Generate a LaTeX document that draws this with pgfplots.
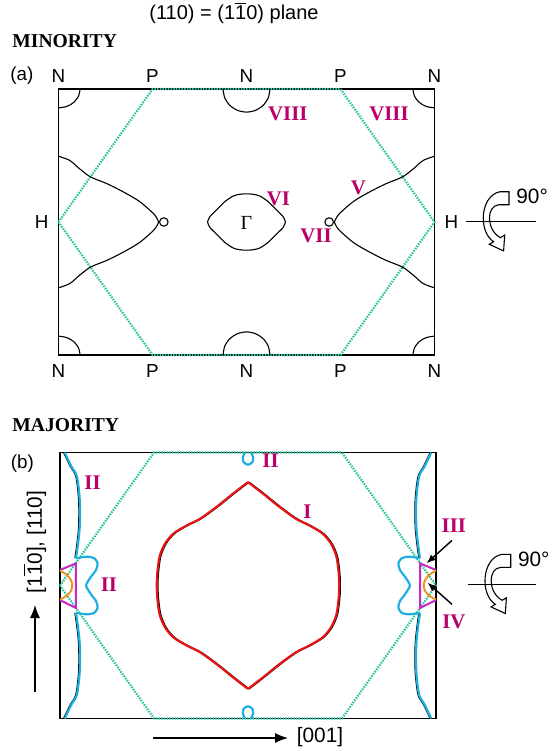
\documentclass[border=0pt]{standalone}
\usepackage{pgfplots}
\pgfplotsset{compat=1.18}
\usetikzlibrary{arrows.meta}
\usepackage{fontspec}
\setmainfont{Liberation Serif}
\setsansfont{Liberation Sans}
\newfontfamily\arial{Liberation Sans}

\definecolor{bzgreen}{RGB}{38,196,160}
\definecolor{sheetlbl}{RGB}{185,0,105}
\definecolor{fsred}{RGB}{230,20,20}
\definecolor{fscyan}{RGB}{30,175,225}
\definecolor{fsmag}{RGB}{200,40,200}
\definecolor{fsorange}{RGB}{240,150,30}

\pgfplotsset{
  fsbox/.style={
    x=47pt, y=47pt,
    xmin=-2, xmax=2, ymin=-1.4142, ymax=1.4142,
    hide axis, clip=false, anchor=center,
  },
  bz/.style={bzgreen, line width=1.1pt, dash pattern=on 0.75pt off 0.6pt},
  fermi/.style={black, line width=0.55pt, smooth},
  IIshade/.style={black, line width=0.5pt, smooth, xshift=-0.6pt},
  IIline/.style={fscyan, line width=1.1pt, smooth},
}
\tikzset{
  sheet/.style={text=sheetlbl, inner sep=0pt, font=\fontsize{10.4}{12}\selectfont\bfseries},
  sym/.style={inner sep=0pt, font=\arial\fontsize{9.4}{11}\selectfont},
  lbl/.style={inner sep=0pt, font=\arial\fontsize{10.4}{12}\selectfont},
  zonebox/.style={line width=0.6pt},
}

% rotation sign: #1,#2 = point where the arrow crosses the axis line, #3 = right end of the line
\newcommand\rotsym[3]{%
  \begin{scope}[shift={(#1,#2)}]
    \draw[line width=0.5pt] (-19,0) -- (#3,0);
    \draw[line width=0.55pt, line join=miter]
      (24,-30) -- (15,-30) .. controls (-5,-26) and (-7,10) .. (8.6,20)
      -- (4.3,22.6) -- (18.6,29.2) -- (19.7,13.4) -- (15.4,16)
      .. controls (1,8) and (1,-16) .. (14,-17) -- (24,-17) -- cycle;
    \node[lbl, anchor=west] at (31,-25) {90°};
  \end{scope}}

\begin{document}
\begin{tikzpicture}
\useasboundingbox (0,0) rectangle (276pt,-375.5pt);

% ---------------- (a) minority spin ----------------
\begin{axis}[fsbox, at={(123.25pt,-111pt)}]
  \draw[zonebox] (axis cs:-2,-1.4142) rectangle (axis cs:2,1.4142);
  % Brillouin zone boundary
  \addplot[bz] coordinates {(-2,0) (-1,1.4142) (1,1.4142) (2,0) (1,-1.4142) (-1,-1.4142) (-2,0)};
  % VIII: pockets around N
  \addplot[fermi] coordinates {(-1.77,1.4142) (-1.7875,1.3376) (-1.8374,1.2728) (-1.912,1.2294) (-2,1.2142)};
  \addplot[fermi] coordinates {(1.77,1.4142) (1.7875,1.3376) (1.8374,1.2728) (1.912,1.2294) (2,1.2142)};
  \addplot[fermi] coordinates {(-1.77,-1.4142) (-1.7875,-1.3376) (-1.8374,-1.2728) (-1.912,-1.2294) (-2,-1.2142)};
  \addplot[fermi] coordinates {(1.77,-1.4142) (1.7875,-1.3376) (1.8374,-1.2728) (1.912,-1.2294) (2,-1.2142)};
  \addplot[fermi] coordinates {(-0.25,1.4142) (-0.231,1.3204) (-0.1768,1.241) (-0.0957,1.1879) (0,1.1692) (0.0957,1.1879) (0.1768,1.241) (0.231,1.3204) (0.25,1.4142)};
  \addplot[fermi] coordinates {(-0.25,-1.4142) (-0.231,-1.3204) (-0.1768,-1.241) (-0.0957,-1.1879) (0,-1.1692) (0.0957,-1.1879) (0.1768,-1.241) (0.231,-1.3204) (0.25,-1.4142)};
  % VI: pocket at Gamma
  \addplot[fermi] coordinates {(-0.414,0) (-0.39,0.057) (-0.32,0.128) (-0.23,0.217) (-0.14,0.277) (-0.07,0.295) (0,0.30) (0.07,0.295) (0.14,0.277) (0.23,0.217) (0.32,0.128) (0.39,0.057) (0.414,0)};
  \addplot[fermi] coordinates {(-0.414,0) (-0.39,-0.057) (-0.32,-0.128) (-0.23,-0.217) (-0.14,-0.277) (-0.07,-0.295) (0,-0.30) (0.07,-0.295) (0.14,-0.277) (0.23,-0.217) (0.32,-0.128) (0.39,-0.057) (0.414,0)};
  % V: sheets around H
  \addplot[fermi] coordinates {(-2,0.70) (-1.88,0.655) (-1.78,0.57) (-1.66,0.48) (-1.49,0.41) (-1.31,0.32) (-1.14,0.22) (-0.99,0.09) (-0.945,0.025) (-0.935,0) (-0.945,-0.025) (-0.99,-0.09) (-1.14,-0.22) (-1.31,-0.32) (-1.49,-0.41) (-1.66,-0.48) (-1.78,-0.57) (-1.88,-0.655) (-2,-0.70)};
  \addplot[fermi] coordinates {(2,0.70) (1.88,0.655) (1.78,0.57) (1.66,0.48) (1.49,0.41) (1.31,0.32) (1.14,0.22) (0.99,0.09) (0.945,0.025) (0.935,0) (0.945,-0.025) (0.99,-0.09) (1.14,-0.22) (1.31,-0.32) (1.49,-0.41) (1.66,-0.48) (1.78,-0.57) (1.88,-0.655) (2,-0.70)};
  % VII: small rings
  \addplot[fermi] coordinates {(-0.835,0) (-0.848,0.032) (-0.88,0.045) (-0.912,0.032) (-0.925,0) (-0.912,-0.032) (-0.88,-0.045) (-0.848,-0.032) (-0.835,0)};
  \addplot[fermi] coordinates {(0.835,0) (0.848,0.032) (0.88,0.045) (0.912,0.032) (0.925,0) (0.912,-0.032) (0.88,-0.045) (0.848,-0.032) (0.835,0)};

  % symmetry points
  \node[sym] at (axis cs:-2,1.555) {N};
  \node[sym] at (axis cs:-1,1.555) {P};
  \node[sym] at (axis cs:0,1.555) {N};
  \node[sym] at (axis cs:1,1.555) {P};
  \node[sym] at (axis cs:2,1.555) {N};
  \node[sym] at (axis cs:-2,-1.59) {N};
  \node[sym] at (axis cs:-1,-1.59) {P};
  \node[sym] at (axis cs:0,-1.59) {N};
  \node[sym] at (axis cs:1,-1.59) {P};
  \node[sym] at (axis cs:2,-1.59) {N};
  \node[sym] at (axis cs:-2.18,0) {H};
  \node[sym] at (axis cs:2.18,0) {H};
  \node[inner sep=0pt, font=\fontsize{10}{12}\selectfont] at (axis cs:0,-0.01) {Γ};
  \node[sym] at (axis cs:-2.39,1.56) {(a)};
  % sheet labels
  \node[sheet] at (axis cs:0.44,1.155) {VIII};
  \node[sheet] at (axis cs:1.516,1.155) {VIII};
  \node[sheet] at (axis cs:0.34,0.245) {VI};
  \node[sheet] at (axis cs:1.19,0.368) {V};
  \node[sheet] at (axis cs:0.74,-0.144) {VII};
\end{axis}

% ---------------- (b) majority spin ----------------
\begin{axis}[fsbox, at={(124pt,-292.75pt)}]
  \draw[zonebox] (axis cs:-2,-1.4142) rectangle (axis cs:2,1.4142);
  \addplot[bz] coordinates {(-2,0) (-1,1.4142) (1,1.4142) (2,0) (1,-1.4142) (-1,-1.4142) (-2,0)};
  % I: sheet around Gamma
  \addplot[black, line width=0.6pt, smooth, xshift=0.6pt] coordinates {(0,1.10) (-0.156,0.98) (-0.33,0.84) (-0.51,0.71) (-0.65,0.64) (-0.79,0.555) (-0.88,0.45) (-0.94,0.31) (-0.965,0.13) (-0.97,0) (-0.965,-0.13) (-0.94,-0.31) (-0.88,-0.45) (-0.79,-0.555) (-0.65,-0.64) (-0.51,-0.71) (-0.33,-0.84) (-0.156,-0.98) (0,-1.10)};
  \addplot[black, line width=0.6pt, smooth, xshift=0.6pt] coordinates {(0,1.10) (0.156,0.98) (0.33,0.84) (0.51,0.71) (0.65,0.64) (0.79,0.555) (0.88,0.45) (0.94,0.31) (0.965,0.13) (0.97,0) (0.965,-0.13) (0.94,-0.31) (0.88,-0.45) (0.79,-0.555) (0.65,-0.64) (0.51,-0.71) (0.33,-0.84) (0.156,-0.98) (0,-1.10)};
  \addplot[fsred, line width=1.1pt, smooth] coordinates {(0,1.10) (-0.156,0.98) (-0.33,0.84) (-0.51,0.71) (-0.65,0.64) (-0.79,0.555) (-0.88,0.45) (-0.94,0.31) (-0.965,0.13) (-0.97,0) (-0.965,-0.13) (-0.94,-0.31) (-0.88,-0.45) (-0.79,-0.555) (-0.65,-0.64) (-0.51,-0.71) (-0.33,-0.84) (-0.156,-0.98) (0,-1.10)};
  \addplot[fsred, line width=1.1pt, smooth] coordinates {(0,1.10) (0.156,0.98) (0.33,0.84) (0.51,0.71) (0.65,0.64) (0.79,0.555) (0.88,0.45) (0.94,0.31) (0.965,0.13) (0.97,0) (0.965,-0.13) (0.94,-0.31) (0.88,-0.45) (0.79,-0.555) (0.65,-0.64) (0.51,-0.71) (0.33,-0.84) (0.156,-0.98) (0,-1.10)};
  % II: sheets near the zone edge (left)
  \addplot[IIshade] coordinates {(-1.95,1.4142) (-1.875,1.26) (-1.82,1.16) (-1.79,0.91) (-1.79,0.63) (-1.81,0.43) (-1.83,0.29)};
  \addplot[IIshade] coordinates {(-1.95,-1.4142) (-1.875,-1.26) (-1.82,-1.16) (-1.79,-0.91) (-1.79,-0.63) (-1.81,-0.43) (-1.83,-0.29)};
  \addplot[IIline] coordinates {(-1.95,1.4142) (-1.875,1.26) (-1.82,1.16) (-1.79,0.91) (-1.79,0.63) (-1.81,0.43) (-1.83,0.29)};
  \addplot[IIline] coordinates {(-1.95,-1.4142) (-1.875,-1.26) (-1.82,-1.16) (-1.79,-0.91) (-1.79,-0.63) (-1.81,-0.43) (-1.83,-0.29)};
  \addplot[IIline] coordinates {(-1.83,0.29) (-1.77,0.30) (-1.705,0.306) (-1.635,0.29) (-1.60,0.236) (-1.617,0.165) (-1.67,0.094) (-1.705,0.04) (-1.723,0) (-1.705,-0.04) (-1.67,-0.094) (-1.617,-0.165) (-1.60,-0.236) (-1.635,-0.29) (-1.705,-0.306) (-1.77,-0.30) (-1.83,-0.29)};
  % II: sheets near the zone edge (right)
  \addplot[IIshade] coordinates {(1.95,1.4142) (1.875,1.26) (1.82,1.16) (1.79,0.91) (1.79,0.63) (1.81,0.43) (1.83,0.29)};
  \addplot[IIshade] coordinates {(1.95,-1.4142) (1.875,-1.26) (1.82,-1.16) (1.79,-0.91) (1.79,-0.63) (1.81,-0.43) (1.83,-0.29)};
  \addplot[IIline] coordinates {(1.95,1.4142) (1.875,1.26) (1.82,1.16) (1.79,0.91) (1.79,0.63) (1.81,0.43) (1.83,0.29)};
  \addplot[IIline] coordinates {(1.95,-1.4142) (1.875,-1.26) (1.82,-1.16) (1.79,-0.91) (1.79,-0.63) (1.81,-0.43) (1.83,-0.29)};
  \addplot[IIline] coordinates {(1.83,0.29) (1.77,0.30) (1.705,0.306) (1.635,0.29) (1.60,0.236) (1.617,0.165) (1.67,0.094) (1.705,0.04) (1.723,0) (1.705,-0.04) (1.67,-0.094) (1.617,-0.165) (1.60,-0.236) (1.635,-0.29) (1.705,-0.306) (1.77,-0.30) (1.83,-0.29)};
  % II: small pockets at N
  \addplot[IIline] coordinates {(-0.035,1.4142) (-0.055,1.36) (-0.045,1.31) (0,1.285) (0.045,1.31) (0.055,1.36) (0.035,1.4142)};
  \addplot[IIline] coordinates {(-0.035,-1.4142) (-0.055,-1.36) (-0.045,-1.31) (0,-1.285) (0.045,-1.31) (0.055,-1.36) (0.035,-1.4142)};
  % III and IV: pockets at H
  \addplot[fsmag, line width=1pt] coordinates {(-2,0.165) (-1.83,0.236) (-1.83,-0.24) (-2,-0.155)};
  \addplot[fsmag, line width=1pt] coordinates {(2,0.165) (1.83,0.236) (1.83,-0.24) (2,-0.155)};
  \addplot[fsorange, line width=1pt, smooth] coordinates {(-2,0.16) (-1.93,0.115) (-1.885,0.06) (-1.87,0) (-1.885,-0.06) (-1.93,-0.11) (-2,-0.15)};
  \addplot[fsorange, line width=1pt, smooth] coordinates {(2,0.16) (1.93,0.115) (1.885,0.06) (1.87,0) (1.885,-0.06) (1.93,-0.11) (2,-0.15)};

  \node[sym] at (axis cs:-2.40,1.30) {(b)};
  \node[sheet] at (axis cs:0.24,1.33) {II};
  \node[sheet] at (axis cs:-1.654,1.09) {II};
  \node[sheet] at (axis cs:-1.48,0.005) {II};
  \node[sheet] at (axis cs:0.633,0.785) {I};
  \node[sheet] at (axis cs:2.19,0.635) {III};
  \node[sheet] at (axis cs:2.19,-0.385) {IV};
  \draw[line width=0.7pt, -{Latex[length=4.5pt,width=3.6pt]}] (axis cs:2.17,0.48) -- (axis cs:1.90,0.236);
  \draw[line width=0.7pt, -{Latex[length=4.5pt,width=3.6pt]}] (axis cs:2.17,-0.20) -- (axis cs:1.91,0.03);
\end{axis}

\begin{scope}[x=0.5pt, y=-0.5pt]
  \node[inner sep=0pt, font=\arial\fontsize{10}{12}\selectfont] at (234,13) {(110) = (1$\overline{\mbox{1}}$0) plane};
  \node[anchor=west, inner sep=0pt, font=\fontsize{9.8}{12}\selectfont\bfseries] at (12,41) {MINORITY};
  \node[anchor=west, inner sep=0pt, font=\fontsize{9.8}{12}\selectfont\bfseries] at (12,425) {MAJORITY};
  \rotsym{485}{221.7}{51}
  \rotsym{486.7}{584.3}{49}
  % crystal directions
  \draw[line width=0.6pt, -{Latex[length=6.5pt,width=5pt]}] (35,692) -- (35,605);
  \node[lbl, rotate=90] at (35,542) {[1$\overline{\mbox{1}}$0], [110]};
  \draw[line width=0.6pt, -{Latex[length=6.5pt,width=5pt]}] (153,738) -- (288,738);
  \node[lbl] at (320,737.5) {[001]};
\end{scope}
\end{tikzpicture}
\end{document}
